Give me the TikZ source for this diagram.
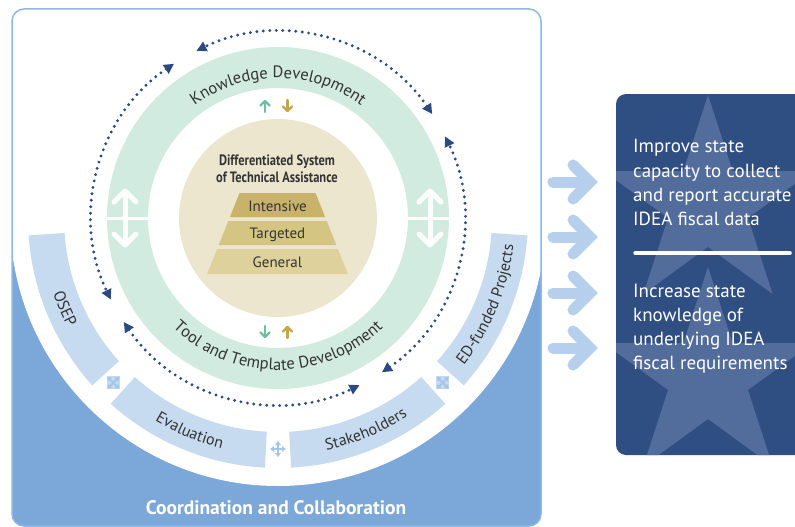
\documentclass[tikz,border=0pt]{standalone}
\usepackage{fontspec}
\setmainfont{PT Sans}
\usetikzlibrary{arrows.meta,decorations.text,calc}
\definecolor{navy}{HTML}{2C4A82}
\definecolor{mint}{HTML}{D1EBE0}
\definecolor{beige}{HTML}{EDE6CF}
\definecolor{boxblue}{HTML}{7BA7D9}
\definecolor{boxline}{HTML}{8FB7E3}
\definecolor{segblue}{HTML}{C7DBF0}
\definecolor{chevblue}{HTML}{B5CFEC}
\definecolor{panelblue}{HTML}{2F4E81}
\definecolor{starcol}{HTML}{526D9B}
\definecolor{goldA}{HTML}{C9B36B}
\definecolor{goldB}{HTML}{D5C583}
\definecolor{goldC}{HTML}{DED19C}
\definecolor{tealar}{HTML}{6DBF9F}
\definecolor{goldar}{HTML}{C6A549}
\definecolor{txt}{HTML}{333333}
\definecolor{iconcol}{HTML}{A3C6EA}
\newcommand\arcfont{\fontsize{16.5}{18}\selectfont}
\newcommand\segfont{\fontsize{16}{18}\selectfont}
\newcommand\mystar[1]{%
  \fill[starcol] ($(#1)+(90:110pt)$) -- ($(#1)+(126:42pt)$) -- ($(#1)+(162:110pt)$) -- ($(#1)+(198:42pt)$) -- ($(#1)+(234:110pt)$) -- ($(#1)+(270:42pt)$) -- ($(#1)+(306:110pt)$) -- ($(#1)+(342:42pt)$) -- ($(#1)+(18:110pt)$) -- ($(#1)+(54:42pt)$) -- cycle;}
\newcommand\ringseg[2]{%
  \fill[segblue] ($(C)+(#1:214pt)$) arc[start angle=#1,end angle=#2,radius=214pt] -- ($(C)+(#2:250pt)$) arc[start angle=#2,end angle=#1,radius=250pt] -- cycle;}
\tikzset{
  dotarc/.style={navy, line width=3.2pt, line cap=round, dash pattern=on 0pt off 6.5pt,
     {Triangle[length=10pt,width=10pt]}-{Triangle[length=10pt,width=10pt]}},
  chev/.style={chevblue, line width=11pt, line cap=round, line join=miter},
  wdbl/.style={white, line width=5pt, line cap=round, line join=round, opacity=0.9},
  smallar/.style={line width=2.2pt, line cap=round, line join=round},
  pyrtext/.style={text=txt, font=\fontsize{15}{18}\selectfont, anchor=base, inner sep=0pt},
  paneltext/.style={text=white, font=\fontsize{19}{23}\selectfont, anchor=base west, inner sep=0pt},
  icon4/.style={iconcol, line width=2pt, {Triangle[length=4pt,width=5.5pt]}-{Triangle[length=4pt,width=5.5pt]}}
}
\begin{document}
\begin{tikzpicture}[x=1pt,y=1pt]
\useasboundingbox (0,0) rectangle (795,-527);
\clip (0,0) rectangle (795,-527);
\coordinate (C) at (278,-218);

% main box
\begin{scope}
  \clip[rounded corners=12pt] (12,-9) rectangle (541,-526);
  \fill[boxblue] (0,-256) rectangle (560,-540);
  \fill[white] (C) circle[radius=268pt];
\end{scope}
\draw[boxline, line width=1.5pt, rounded corners=12pt] (12,-9) rectangle (541,-526);

% lower segmented ring
\ringseg{184}{222}
\ringseg{228}{267}
\ringseg{273}{312}
\ringseg{318}{356}
\path[decorate, decoration={text along path, text align=center, text color=txt, text={|\segfont|OSEP}}]
  ($(C)+(170:237pt)$) arc[start angle=170, end angle=236, radius=237pt];
\path[decorate, decoration={text along path, text align=center, text color=txt, text={|\segfont|Evaluation}}]
  ($(C)+(215:237pt)$) arc[start angle=215, end angle=280, radius=237pt];
\path[decorate, decoration={text along path, text align=center, text color=txt, text={|\segfont|Stakeholders}}]
  ($(C)+(260:237pt)$) arc[start angle=260, end angle=325, radius=237pt];
\path[decorate, decoration={text along path, text align=center, text color=txt, text={|\segfont|ED-funded Projects}}]
  ($(C)+(300:237pt)$) arc[start angle=300, end angle=375, radius=237pt];

% icons in the gaps
\coordinate (i1) at ($(C)+(225:233pt)$);
\coordinate (i2) at ($(C)+(270:231pt)$);
\coordinate (i3) at ($(C)+(315:233pt)$);
\foreach \ic in {i1,i3}{
  \fill[segblue] ($(\ic)+(-6.5,-6.5)$) rectangle ($(\ic)+(6.5,6.5)$);
  \draw[icon4] ($(\ic)+(-6,-6)$) -- ($(\ic)+(6,6)$);
  \draw[icon4] ($(\ic)+(-6,6)$) -- ($(\ic)+(6,-6)$);
}
\draw[icon4] ($(i2)+(-8,0)$) -- ($(i2)+(8,0)$);
\draw[icon4] ($(i2)+(0,-8)$) -- ($(i2)+(0,8)$);

% green ring
\fill[mint, even odd rule] (C) circle[radius=171pt] (C) circle[radius=130pt];
\fill[white] (105,-216.5) rectangle (150,-219.5);
\fill[white] (406,-216.5) rectangle (452,-219.5);
\draw[wdbl] (125,-192) -- (125,-244);
\draw[wdbl] (114,-202) -- (125,-191) -- (136,-202);
\draw[wdbl] (114,-234) -- (125,-245) -- (136,-234);
\draw[wdbl] (430,-192) -- (430,-244);
\draw[wdbl] (419,-202) -- (430,-191) -- (441,-202);
\draw[wdbl] (419,-234) -- (430,-245) -- (441,-234);

\path[decorate, decoration={text along path, text align=center, text color=txt, text={|\arcfont|Knowledge Development}}]
  ($(C)+(150:140pt)$) arc[start angle=150, end angle=30, radius=140pt];
\path[decorate, decoration={text along path, text align=center, text color=txt, text={|\arcfont|Tool and Template Development}}]
  ($(C)+(200:152pt)$) arc[start angle=200, end angle=340, radius=152pt];

% dotted arcs
\draw[dotarc] ($(C)+(34:186pt)$) arc[start angle=34, end angle=116, radius=186pt];
\draw[dotarc] ($(C)+(124:186pt)$) arc[start angle=124, end angle=206, radius=186pt];
\draw[dotarc] ($(C)+(214:186pt)$) arc[start angle=214, end angle=296, radius=186pt];
\draw[dotarc] ($(C)+(304:186pt)$) arc[start angle=304, end angle=386, radius=186pt];

% small arrows
\draw[smallar, tealar] (265,-112) -- (265,-101);
\draw[smallar, tealar] (260.5,-105.5) -- (265,-101) -- (269.5,-105.5);
\draw[smallar, goldar] (287.5,-100) -- (287.5,-111);
\draw[smallar, goldar] (283,-106.5) -- (287.5,-111) -- (292,-106.5);
\draw[smallar, tealar] (265,-326) -- (265,-337);
\draw[smallar, tealar] (260.5,-332.5) -- (265,-337) -- (269.5,-332.5);
\draw[smallar, goldar] (287.5,-338) -- (287.5,-327);
\draw[smallar, goldar] (283,-331.5) -- (287.5,-327) -- (292,-331.5);

% beige disk and pyramid
\fill[beige] (C) circle[radius=99pt];
\node[inner sep=0pt, anchor=base, text=txt, font=\fontsize{15}{17}\selectfont\bfseries] (t1) at (277,-165) {\scalebox{0.83}[1]{Differentiated System}};
\node[inner sep=0pt, anchor=base, text=txt, font=\fontsize{15}{17}\selectfont\bfseries] (t2) at (277,-182) {\scalebox{0.83}[1]{of Technical Assistance}};
\fill[goldA] (239.5,-193) -- (315.5,-193) -- (325.1,-217) -- (229.9,-217) -- cycle;
\fill[goldB] (228.3,-221) -- (326.7,-221) -- (336.3,-245) -- (218.7,-245) -- cycle;
\fill[goldC] (217.1,-249) -- (337.9,-249) -- (347.9,-274) -- (207.1,-274) -- cycle;
\node[pyrtext] (p1) at (277.5,-211) {Intensive};
\node[pyrtext] (p2) at (277.5,-238) {Targeted};
\node[pyrtext] (p3) at (277.5,-267) {General};

% bottom label
\node[inner sep=0pt, anchor=base, text=white, font=\fontsize{19.5}{21}\selectfont\bfseries] (cc) at (276,-514) {Coordination and Collaboration};

% chevron arrows
\foreach \yy [count=\k] in {182,237,293,348}{
  \draw[chev] (553,-\yy) -- (588,-\yy);
  \draw[chev] (573,-\yy+17) -- (590,-\yy) -- (573,-\yy-17);
}

% right panel
\fill[panelblue, rounded corners=10pt] (616,-94) rectangle (830,-455);
\begin{scope}
  \clip[rounded corners=10pt] (616,-94) rectangle (830,-455);
  \coordinate (s1) at (708,-205);
  \coordinate (s2) at (708,-377);
  \mystar{s1}
  \mystar{s2}
\end{scope}
\draw[white, line width=3.5pt, line cap=round] (635,-253) -- (790,-253);
\node[paneltext] (a1) at (633,-152) {Improve state};
\node[paneltext] (a2) at (633,-177) {capacity to collect};
\node[paneltext] (a3) at (633,-201) {and report accurate};
\node[paneltext] (a4) at (633,-225) {IDEA fiscal data};
\node[paneltext] (b1) at (633,-297) {Increase state};
\node[paneltext] (b2) at (633,-321) {knowledge of};
\node[paneltext] (b3) at (633,-345) {underlying IDEA};
\node[paneltext] (b4) at (633,-369) {fiscal requirements};
\end{tikzpicture}
\end{document}
